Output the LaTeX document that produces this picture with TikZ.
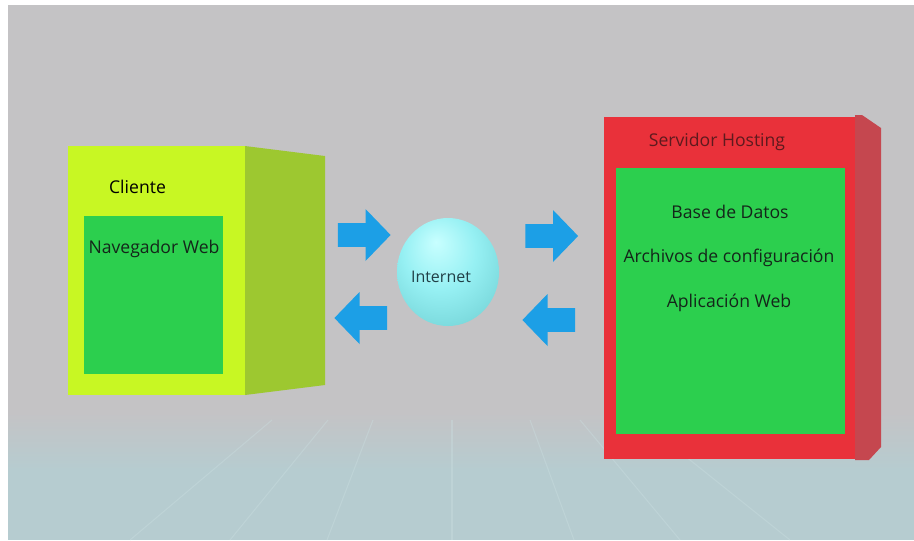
\documentclass[tikz,border=0pt]{standalone}
\usepackage{fontspec}
\setmainfont{Open Sans}
\usetikzlibrary{shapes.arrows}

% colours
\definecolor{bgwhite}{HTML}{FFFFFF}
\definecolor{wallgray}{HTML}{C4C3C5}
\definecolor{floorblue}{HTML}{B6CCD0}
\definecolor{floorline}{HTML}{CDE1E3}
\definecolor{limefront}{HTML}{C8F723}
\definecolor{limeside}{HTML}{9DC830}
\definecolor{panelgreen}{HTML}{2CCF4E}
\definecolor{redfront}{HTML}{E9313A}
\definecolor{redside}{HTML}{C5474F}
\definecolor{arrowblue}{HTML}{1C9FE6}
\definecolor{textdark}{HTML}{14261A}
\definecolor{textred}{HTML}{5E1A1E}
\definecolor{textnet}{HTML}{213F46}
\definecolor{sphereA}{HTML}{C8FFFF}
\definecolor{sphereB}{HTML}{96F0F3}
\definecolor{sphereC}{HTML}{66C8CB}

\pgfdeclareradialshading{globe}{\pgfpoint{-6bp}{14bp}}{%
  color(0bp)=(sphereA); color(18bp)=(sphereB); color(44bp)=(sphereC); color(60bp)=(sphereC)}

\tikzset{
  x=0.75pt, y=-0.75pt,
  face/.style={rectangle, inner sep=0pt, outer sep=0pt},
  label/.style={inner sep=1pt, font=\fontsize{13.2}{15}\selectfont, text=textdark},
  blockarrow/.style={single arrow, fill=arrowblue, draw=none, inner sep=0pt,
    minimum height=39.5pt, minimum width=39pt, single arrow head extend=10.5pt,
    single arrow tip angle=92, text height=17.5pt},
  floor/.style={floorline, line width=0.8pt, opacity=0.35}
}

\begin{document}
\begin{tikzpicture}
  \useasboundingbox (0,0) rectangle (914,540);

  % backdrop: grey wall fading into a bluish floor
  \fill[bgwhite] (0,0) rectangle (914,540);
  \fill[wallgray] (8,5) rectangle (914,412);
  \shade[top color=wallgray, bottom color=floorblue] (8,412) rectangle (914,470);
  \fill[floorblue] (8,470) rectangle (914,540);

  % perspective lines on the floor
  \foreach \bx/\tx in {130/272, 230/328, 327/373, 452/452, 574/530, 680/580, 790/640} {
    \draw[floor] (\tx,420) -- (\bx,540);
  }

  % --- client box ---
  \fill[limeside] (245,146) -- (325,156) -- (325,385) -- (245,395) -- cycle;
  \node[face, fill=limefront, minimum width=132.75pt, minimum height=186.75pt] (cliente) at (156.5,270.5) {};
  \node[face, fill=panelgreen, minimum width=104.25pt, minimum height=118.5pt] (navegador) at (153.5,295) {};
  \node[label, text=black] (clienteTxt) at (137.5,187) {Cliente};
  \node[label] (navegadorTxt) at (154,249) {Navegador Web};

  % --- server box ---
  \fill[redside] (855,115) -- (862,115) -- (881,128) -- (881,447) -- (869,460) -- (855,460) -- cycle;
  \node[face, fill=redfront, minimum width=188.25pt, minimum height=256.5pt] (servidor) at (729.5,287.5) {};
  \node[face, fill=panelgreen, minimum width=171.75pt, minimum height=199.5pt] (contenido) at (730.5,301) {};
  \node[label, text=textred] (servidorTxt) at (717,142) {Servidor Hosting};
  \node[label] (baseTxt) at (730,212) {Base de Datos};
  \node[label] (archivosTxt) at (729,258) {Archivos de configuración};
  \node[label] (appTxt) at (729,303) {Aplicación Web};

  % --- internet globe ---
  \coordinate (internet) at (448,272);
  \shade[shading=globe] (internet) ellipse [x radius=51, y radius=54];
  \node[label, text=textnet, font=\fontsize{12}{14}\selectfont] (internetTxt) at (441,277) {Internet};

  % --- traffic arrows ---
  \node[blockarrow] (toNetL) at (358.5,235) {};
  \node[blockarrow, shape border rotate=180] (fromNetL) at (366.5,318) {};
  \node[blockarrow] (toServer) at (546,236) {};
  \node[blockarrow, shape border rotate=180] (fromServer) at (554.5,320) {};
\end{tikzpicture}
\end{document}
